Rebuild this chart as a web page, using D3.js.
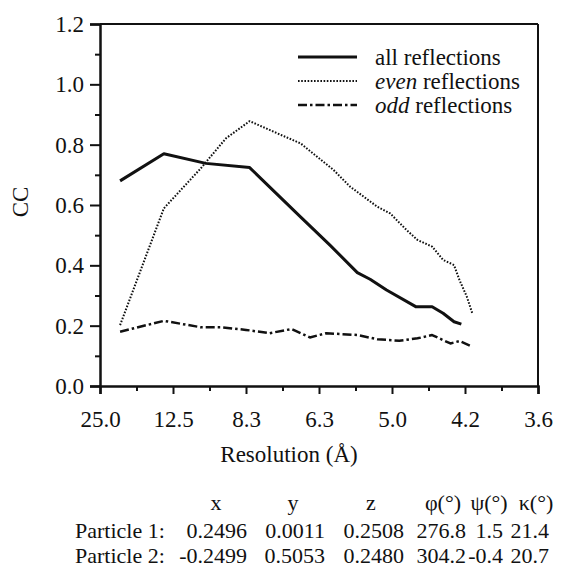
<!DOCTYPE html>
<html>
<head>
<meta charset="utf-8">
<script src="https://cdn.jsdelivr.net/npm/d3@7/dist/d3.min.js"></script>
<style>
  html, body { margin: 0; padding: 0; background: #fff; }
  svg { display: block; }
  text { font-family: "Liberation Serif", "Times New Roman", serif; fill: #111; }
</style>
</head>
<body>
<svg id="chart" width="570" height="571"></svg>
<script>
// ---- Data (x = spatial frequency 1/d, Å^-1) ----
const xTickValues = [0.04, 0.08, 0.12, 0.16, 0.20, 0.24, 0.28];
const xTickLabels = ["25.0", "12.5", "8.3", "6.3", "5.0", "4.2", "3.6"];
const xMinorTicks = [0.06, 0.10, 0.14, 0.18, 0.22, 0.26];
const yTickValues = [0.0, 0.2, 0.4, 0.6, 0.8, 1.0, 1.2];
const yMinorTicks = [0.1, 0.3, 0.5, 0.7, 0.9, 1.1];

const allQ  = [0.051, 0.075, 0.098, 0.122, 0.150, 0.166, 0.181, 0.188, 0.197, 0.213, 0.222, 0.228, 0.234, 0.238];
const allCC = [0.680, 0.770, 0.738, 0.724, 0.560, 0.467, 0.376, 0.354, 0.318, 0.263, 0.263, 0.241, 0.213, 0.205];

const evenQ  = [0.051, 0.075, 0.095, 0.109, 0.122, 0.137, 0.150, 0.168, 0.177, 0.192, 0.199, 0.208, 0.214, 0.222, 0.228, 0.234, 0.237, 0.241, 0.244];
const evenCC = [0.202, 0.589, 0.720, 0.821, 0.878, 0.838, 0.804, 0.716, 0.661, 0.594, 0.572, 0.517, 0.484, 0.462, 0.418, 0.401, 0.351, 0.296, 0.241];

const oddQ  = [0.051, 0.075, 0.095, 0.106, 0.120, 0.133, 0.145, 0.155, 0.164, 0.181, 0.192, 0.204, 0.214, 0.222, 0.232, 0.237, 0.244];
const oddCC = [0.180, 0.216, 0.195, 0.195, 0.186, 0.175, 0.189, 0.161, 0.175, 0.169, 0.155, 0.150, 0.158, 0.169, 0.141, 0.149, 0.130];

const legendLabels = [["", "all"], ["even", ""], ["odd", ""]];
const tableHeader = ["x", "y", "z", "φ(°)", "ψ(°)", "κ(°)"];
const tableRowNames = ["Particle 1:", "Particle 2:"];
const tableRows = [
  ["0.2496", "0.0011", "0.2508", "276.8", "1.5", "21.4"],
  ["-0.2499", "0.5053", "0.2480", "304.2", "-0.4", "20.7"]
];

// ---- Layout ----
const svg = d3.select("#chart");
svg.append("rect").attr("width", 570).attr("height", 571).attr("fill", "#fff");

const L = 100, R = 538, T = 24, B = 386;
const x = d3.scaleLinear().domain([0.04, 0.28]).range([L, R]);
const y = d3.scaleLinear().domain([0, 1.2]).range([B, T]);

const ink = "#111";
const fs = 23;

// frame top/right
svg.append("line").attr("x1", L).attr("x2", R).attr("y1", T).attr("y2", T)
  .attr("stroke", ink).attr("stroke-width", 2);
svg.append("line").attr("x1", R).attr("x2", R).attr("y1", T).attr("y2", B)
  .attr("stroke", ink).attr("stroke-width", 2);

// x axis
const xAxis = svg.append("g").attr("transform", `translate(0,${B})`)
  .call(d3.axisBottom(x).tickValues(xTickValues)
    .tickFormat((d, i) => xTickLabels[i]).tickSize(8).tickPadding(17));
xAxis.select(".domain").attr("stroke", ink).attr("stroke-width", 2.5);
xAxis.selectAll(".tick line").attr("stroke", ink).attr("stroke-width", 2);
xAxis.selectAll(".tick text").attr("font-size", fs).attr("font-family", "Liberation Serif").attr("fill", ink);
svg.append("g").attr("transform", `translate(0,${B})`)
  .call(d3.axisBottom(x).tickValues(xMinorTicks).tickFormat("").tickSize(5))
  .call(g => g.select(".domain").remove())
  .selectAll(".tick line").attr("stroke", ink).attr("stroke-width", 2);

// y axis
const yAxis = svg.append("g").attr("transform", `translate(${L},0)`)
  .call(d3.axisLeft(y).tickValues(yTickValues)
    .tickFormat(d3.format(".1f")).tickSize(10).tickPadding(6));
yAxis.select(".domain").attr("stroke", ink).attr("stroke-width", 2.5);
yAxis.selectAll(".tick line").attr("stroke", ink).attr("stroke-width", 2);
yAxis.selectAll(".tick text").attr("font-size", fs).attr("font-family", "Liberation Serif").attr("fill", ink);
svg.append("g").attr("transform", `translate(${L},0)`)
  .call(d3.axisLeft(y).tickValues(yMinorTicks).tickFormat("").tickSize(5))
  .call(g => g.select(".domain").remove())
  .selectAll(".tick line").attr("stroke", ink).attr("stroke-width", 2);

// axis titles
svg.append("text").attr("x", 289).attr("y", 462).attr("text-anchor", "middle")
  .attr("font-size", fs).text("Resolution (Å)");
svg.append("text").attr("transform", "translate(28,202) rotate(-90)")
  .attr("text-anchor", "middle").attr("font-size", fs).text("CC");

// ---- Lines ----
const line = d3.line().x(d => x(d[0])).y(d => y(d[1]));
const series = [
  { q: allQ,  v: allCC,  w: 3,   dash: null },
  { q: evenQ, v: evenCC, w: 2,   dash: "1.6,1.6" },
  { q: oddQ,  v: oddCC,  w: 2.5, dash: "9,3,2.5,3" }
];
series.forEach(s => {
  svg.append("path").datum(d3.zip(s.q, s.v)).attr("d", line)
    .attr("fill", "none").attr("stroke", ink).attr("stroke-width", s.w)
    .attr("stroke-dasharray", s.dash).attr("stroke-linejoin", "round");
});

// ---- Legend ----
const legY = [57, 81, 105];
series.forEach((s, i) => {
  svg.append("line").attr("x1", 298).attr("x2", 357).attr("y1", legY[i]).attr("y2", legY[i])
    .attr("stroke", ink).attr("stroke-width", s.w).attr("stroke-dasharray", s.dash);
  const t = svg.append("text").attr("x", 375).attr("y", legY[i] + 8).attr("font-size", fs);
  if (legendLabels[i][0]) {
    t.append("tspan").attr("font-style", "italic").text(legendLabels[i][0]);
    t.append("tspan").text(" reflections");
  } else {
    t.append("tspan").text(legendLabels[i][1] + " reflections");
  }
});

// ---- Table ----
const tfs = 22;
const colRight = [247, 325, 404, 466, 503, 549];
const colCenter = [216, 293, 371, 443, 489, 536];
const headY = 510, rowY = [538, 563];
tableHeader.forEach((h, j) => {
  svg.append("text").attr("x", colCenter[j]).attr("y", headY).attr("text-anchor", "middle")
    .attr("font-size", tfs).text(h);
});
tableRowNames.forEach((nm, r) => {
  svg.append("text").attr("x", 75).attr("y", rowY[r]).attr("font-size", tfs).text(nm);
  tableRows[r].forEach((v, j) => {
    svg.append("text").attr("x", colRight[j]).attr("y", rowY[r]).attr("text-anchor", "end")
      .attr("font-size", tfs).text(v);
  });
});
</script>
</body>
</html>
